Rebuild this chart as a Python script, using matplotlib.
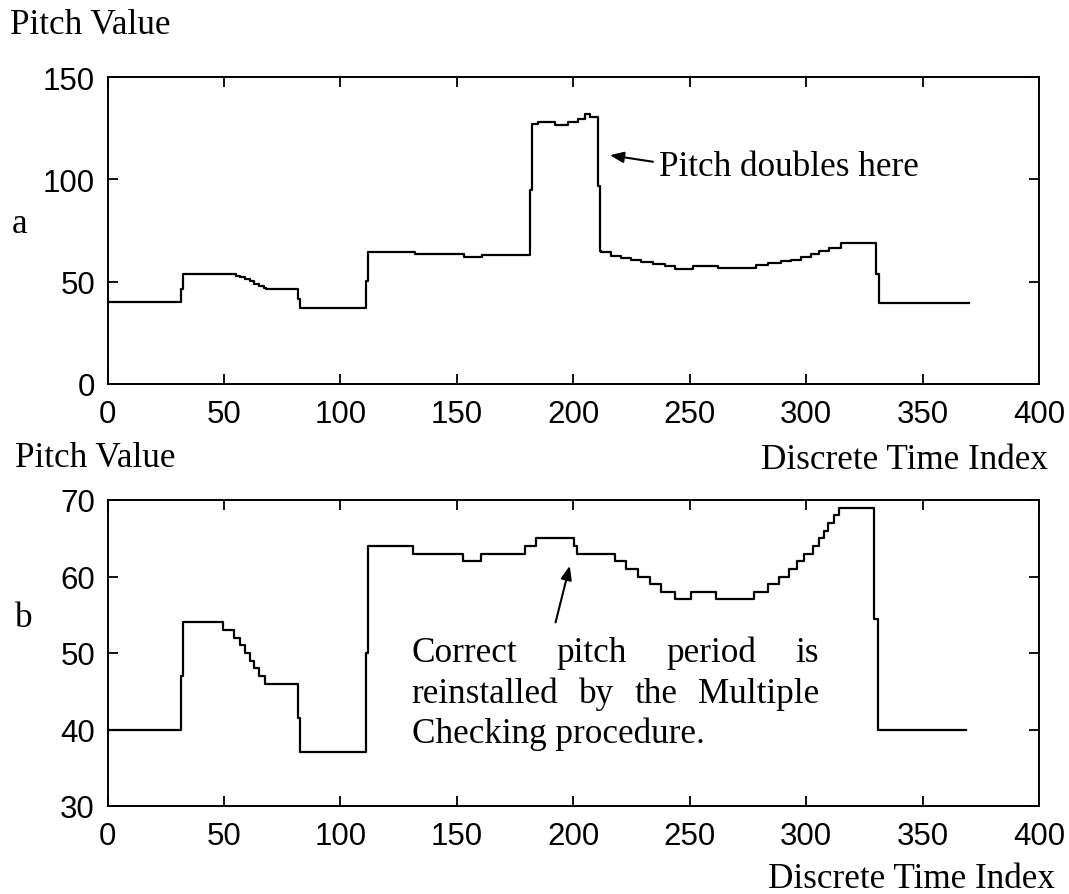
import matplotlib
matplotlib.use("Agg")
import matplotlib.pyplot as plt
from matplotlib.transforms import IdentityTransform

plt.rcParams['font.family'] = ['Liberation Sans', 'DejaVu Sans']

# (a) raw pitch track, with the doubling error around index 180-210
idx_a = [0, 31.5, 32.5, 55, 57, 59, 61, 63, 65, 67,
         68, 81.7, 82.5, 111, 111.8, 132, 153, 161, 181.3, 182.5,
         185, 192.2, 197.9, 202.2, 205.1, 207.2, 210.7, 211.5, 212.1, 216.4,
         220.7, 225, 229.2, 234.2, 239.2, 243.5, 251.4, 262.1, 278.5, 283.5,
         289.2, 293.5, 297.8, 302.1, 305.7, 310, 315, 330, 331.5, 370]
pitch_a = [40, 46.5, 53.6, 53, 52.3, 51.3, 50.2, 49, 47.8, 46.8,
           46.4, 41.3, 37, 50.5, 64.5, 63.3, 62, 63, 95, 127,
           128, 126.7, 128, 129.5, 132, 130.4, 96.9, 65, 64.3, 62.7,
           61.6, 60.7, 59.5, 58.7, 57.5, 56.4, 57.8, 56.5, 58, 59.1,
           60, 60.8, 62.2, 63.3, 65, 66.6, 69.1, 53.7, 39.5, 39.5]

# (b) pitch track after multiple checking
idx_b = [0, 31.5, 32.5, 49.5, 54.5, 57.1, 59, 61, 63, 65,
         67.8, 81.7, 82.5, 111, 111.8, 131.4, 152.8, 160.6, 179.2, 184.2,
         200.4, 201.8, 217.8, 222.8, 227.8, 232.8, 237.8, 243.5, 250.5, 261.4,
         277.8, 283.5, 288.5, 292.8, 296, 299.2, 302.8, 305.5, 307.5, 309.5,
         312, 314.2, 329.3, 330.8, 368.5]
pitch_b = [40, 47, 54, 53, 52, 51, 50, 49, 48, 47,
           46, 41.5, 37, 50, 64, 63, 62, 63, 64, 65,
           64, 63, 62, 61, 60, 59, 58, 57, 58, 57,
           58, 59, 60, 61, 62, 63, 64, 65, 66, 67,
           68, 69, 54.5, 40, 40]

x_ticks = [0, 50, 100, 150, 200, 250, 300, 350, 400]
y_ticks_a = [0, 50, 100, 150]
y_ticks_b = [30, 40, 50, 60, 70]

W, H = 1069, 895
fig = plt.figure(figsize=(W / 100, H / 100), dpi=100)

ax_a = fig.add_axes([107.5 / W, 1 - 385 / H, 931.5 / W, 307 / H])
ax_b = fig.add_axes([107.5 / W, 1 - 807 / H, 931.5 / W, 306 / H])

for ax, idx, pitch, yt in ((ax_a, idx_a, pitch_a, y_ticks_a),
                           (ax_b, idx_b, pitch_b, y_ticks_b)):
    ax.plot(idx, pitch, drawstyle='steps-post', color='k', lw=1.6)
    ax.set_xlim(x_ticks[0], x_ticks[-1])
    ax.set_ylim(yt[0], yt[-1])
    ax.set_xticks(x_ticks)
    ax.set_yticks(yt)
    ax.tick_params(direction='in', length=7, width=1.3, top=True, right=True,
                   labelsize=22.5)
    ax.tick_params(axis='x', pad=10.5)
    ax.tick_params(axis='y', pad=9)
    for sp in ax.spines.values():
        sp.set_linewidth(1.4)

serif = dict(family='Liberation Serif', fontsize=25.3, color='k')
pix = IdentityTransform()


def put(x, y, s, **kw):
    # place text in image pixels measured from the top left corner
    return fig.text(x, H - y, s, transform=pix, va='baseline', **{**serif, **kw})


put(10, 34, "Pitch Value")
put(12, 233, "a")
put(15, 467, "Pitch Value")
put(1048, 469, "Discrete Time Index", ha='right')
put(15, 627, "b")
put(1055, 888, "Discrete Time Index", ha='right')

# arrow and label for the doubled section
ax_a.annotate('', xy=(215.7, 111.8), xytext=(234.2, 108.6),
              arrowprops=dict(arrowstyle='-|>,head_length=0.55,head_width=0.22',
                              mutation_scale=15, lw=1.5, color='k',
                              shrinkA=0, shrinkB=0))
put(659, 176, "Pitch doubles here")

# arrow and justified note for the corrected section
ax_b.annotate('', xy=(198.5, 61.4), xytext=(192.4, 54),
              arrowprops=dict(arrowstyle='-|>,head_length=0.55,head_width=0.22',
                              mutation_scale=15, lw=1.5, color='k',
                              shrinkA=0, shrinkB=0))


def justify(words, x0, x1, y):
    arts = [put(x0, y, w) for w in words]
    r = fig.canvas.get_renderer()
    widths = [a.get_window_extent(r).width for a in arts]
    gap = (x1 - x0 - sum(widths)) / (len(words) - 1)
    x = x0
    for a, w in zip(arts, widths):
        a.set_x(x)
        x += w + gap


justify(["Correct", "pitch", "period", "is"], 411.7, 818.5, 661.7)
justify(["reinstalled", "by", "the", "Multiple"], 411.7, 819, 703.3)
put(411.7, 743.3, "Checking procedure.")

fig.savefig("out.png", dpi=100)
